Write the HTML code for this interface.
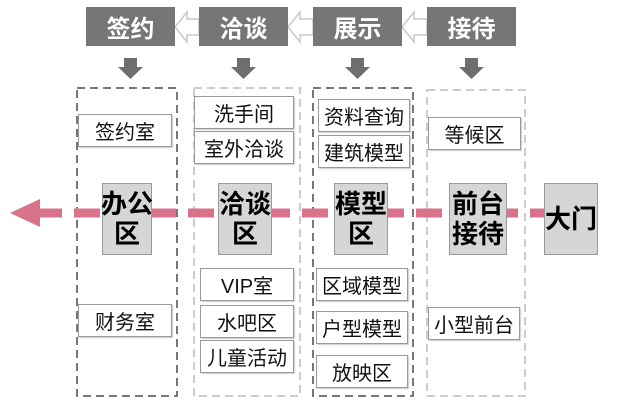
<!DOCTYPE html>
<html><head><meta charset="utf-8"><style>
body{margin:0;width:619px;height:406px;background:#fff;overflow:hidden;position:relative;font-family:"Liberation Sans","Noto Sans CJK SC",sans-serif}
.a{position:absolute;box-sizing:border-box;display:flex;align-items:center;justify-content:center;text-align:center;white-space:nowrap}
.top{background:#767676;color:#fff;font-weight:bold;font-size:24px;height:39px;width:89px;top:7px}
.it{border:1px solid #999;background:#fff;color:#111;font-size:20px;height:33px;box-shadow:1px 1px 1px #ccc}
.ct{background:#d6d6d6;border:1px solid #999;color:#000;font-weight:bold;font-size:26px;line-height:30px;top:183px;height:72px}
</style></head><body>
<svg width="619" height="406" style="position:absolute;left:0;top:0">
<g fill="#fff" stroke="#c8c8c8" stroke-width="1.5">
<polygon points="175,27 187,12 187,19 199,19 199,35 187,35 187,42"/>
<polygon points="288,27 300,12 300,19 313,19 313,35 300,35 300,42"/>
<polygon points="402,27 414,12 414,19 427,19 427,35 414,35 414,42"/>
</g>
<g fill="#6e6e6e">
<polygon points="124,58 137,58 137,67 143,67 130.5,79 118,67 124,67"/>
<polygon points="237,58 250,58 250,67 256,67 243.5,79 231,67 237,67"/>
<polygon points="351,58 364,58 364,67 370,67 357.5,79 345,67 351,67"/>
<polygon points="465,58 478,58 478,67 484,67 471.5,79 459,67 465,67"/>
</g>
<g fill="none" stroke-width="2" stroke-dasharray="8,5">
<rect x="77" y="88" width="100" height="308" stroke="#777"/>
<rect x="194" y="88" width="106" height="308" stroke="#ccc"/>
<rect x="313" y="88" width="100" height="308" stroke="#777"/>
<rect x="427" y="90" width="98" height="306" stroke="#ccc"/>
</g>
<line x1="36" y1="213" x2="545" y2="213" stroke="#d9738c" stroke-width="9" stroke-dasharray="26,12"/>
<polygon points="10,213 40,199 40,227" fill="#d9738c"/>
</svg>
<div class="a top" style="left:86px">签约</div>
<div class="a top" style="left:199px">洽谈</div>
<div class="a top" style="left:313px">展示</div>
<div class="a top" style="left:427px">接待</div>
<div class="a it" style="left:78px;top:114px;width:94px">签约室</div>
<div class="a it" style="left:78px;top:304px;width:94px">财务室</div>
<div class="a it" style="left:194px;top:96px;width:100px">洗手间</div>
<div class="a it" style="left:194px;top:131px;width:100px">室外洽谈</div>
<div class="a it" style="left:200px;top:268px;width:94px">VIP室</div>
<div class="a it" style="left:200px;top:305px;width:94px">水吧区</div>
<div class="a it" style="left:200px;top:340px;width:94px">儿童活动</div>
<div class="a it" style="left:318px;top:99px;width:92px">资料查询</div>
<div class="a it" style="left:318px;top:135px;width:92px">建筑模型</div>
<div class="a it" style="left:316px;top:268px;width:92px">区域模型</div>
<div class="a it" style="left:316px;top:311px;width:92px">户型模型</div>
<div class="a it" style="left:316px;top:355px;width:92px">放映区</div>
<div class="a it" style="left:428px;top:117px;width:93px">等候区</div>
<div class="a it" style="left:428px;top:307px;width:92px">小型前台</div>
<div class="a ct" style="left:102px;width:50px">办公<br>区</div>
<div class="a ct" style="left:218px;width:54px">洽谈<br>区</div>
<div class="a ct" style="left:334px;width:54px">模型<br>区</div>
<div class="a ct" style="left:449px;width:58px">前台<br>接待</div>
<div class="a ct" style="left:544px;width:54px">大门</div>
</body></html>
